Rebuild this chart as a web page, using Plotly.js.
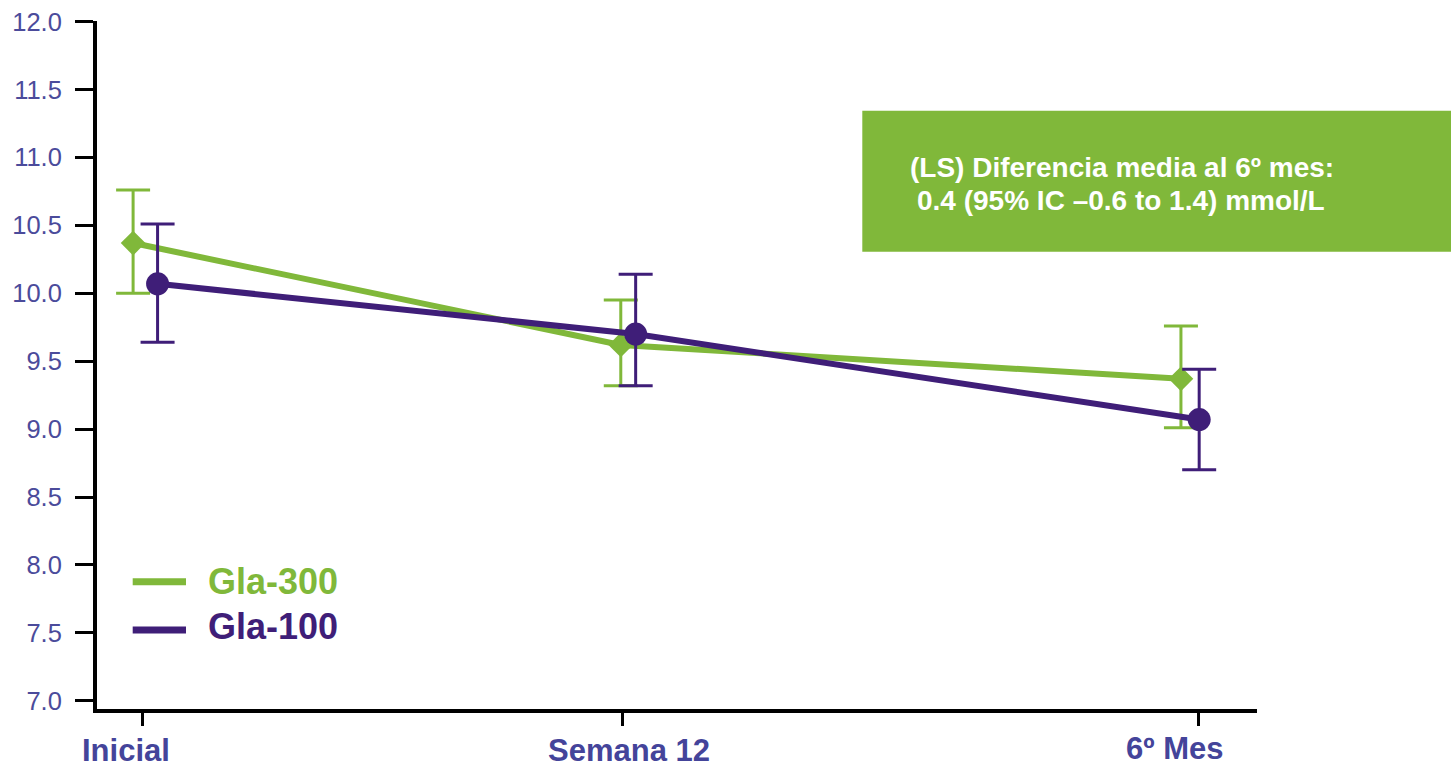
<!DOCTYPE html>
<html>
<head>
<meta charset="utf-8">
<script src="https://cdn.plot.ly/plotly-3.0.1.min.js"></script>
<style>
  html, body { margin: 0; padding: 0; background: #ffffff; }
  #chart { width: 1451px; height: 769px; }
</style>
</head>
<body>
<div id="chart"></div>
<script>
// Visit labels
const categories = ['Inicial', 'Semana 12', '6º Mes'];

// Mean glucose (mmol/L) and 95% CI bounds per visit
const gla300Mean  = [10.37, 9.62, 9.37];
const gla300Upper = [10.76, 9.95, 9.76];
const gla300Lower = [10.00, 9.32, 9.01];

const gla100Mean  = [10.07, 9.70, 9.07];
const gla100Upper = [10.51, 10.14, 9.44];
const gla100Lower = [9.64, 9.32, 8.70];

const seriesNames = ['Gla-300', 'Gla-100'];
const yTickVals = [7.0, 7.5, 8.0, 8.5, 9.0, 9.5, 10.0, 10.5, 11.0, 11.5, 12.0];
const boxLines = ['(LS) Diferencia media al 6º mes:', '0.4 (95% IC –0.6 to 1.4) mmol/L'];

// ---- layout / styling ----
const GREEN = '#80B83A';
const PURPLE = '#3F1E78';
const TICKCOL = '#4B4B9B';
const LABELCOL = '#44449A';

// horizontal placement of visits on the time axis, and small per-series dodge
const visitPos = [0, 1, 2.2];
const dodge300 = [-0.020, -0.004, -0.037];
const dodge100 = [0.031, 0.027, 0.001];

const W = 1451, H = 769;
const M = { l: 97, r: W - 1257, t: 21, b: H - 709 };
const plotW = W - M.l - M.r, plotH = H - M.t - M.b;
const px = x => (x - M.l) / plotW;
const py = y => (709 - y) / plotH;

const fmt = v => v.toFixed(1);

const gla300 = {
  type: 'scatter', mode: 'lines+markers', name: seriesNames[0],
  x: visitPos.map((p, i) => p + dodge300[i]),
  y: gla300Mean,
  line: { color: GREEN, width: 6 },
  marker: { symbol: 'diamond', size: 19, color: GREEN },
  error_y: {
    type: 'data', symmetric: false,
    array: gla300Upper.map((u, i) => u - gla300Mean[i]),
    arrayminus: gla300Mean.map((m, i) => m - gla300Lower[i]),
    color: GREEN, thickness: 3, width: 17
  },
  showlegend: false, hoverinfo: 'skip'
};

const gla100 = {
  type: 'scatter', mode: 'lines+markers', name: seriesNames[1],
  x: visitPos.map((p, i) => p + dodge100[i]),
  y: gla100Mean,
  line: { color: PURPLE, width: 6 },
  marker: { symbol: 'circle', size: 23, color: PURPLE },
  error_y: {
    type: 'data', symmetric: false,
    array: gla100Upper.map((u, i) => u - gla100Mean[i]),
    arrayminus: gla100Mean.map((m, i) => m - gla100Lower[i]),
    color: PURPLE, thickness: 3, width: 17
  },
  showlegend: false, hoverinfo: 'skip'
};

// x-axis category labels sit slightly off their ticks
const labelCenters = [126.4, 628.7, 1174];
const labelMid = [751, 751, 748.5];
const xLabelAnnotations = categories.map((c, i) => ({
  xref: 'paper', yref: 'paper', x: px(labelCenters[i]), y: py(labelMid[i]),
  xanchor: 'center', yanchor: 'middle', showarrow: false, text: c, borderpad: 0,
  font: { family: 'Liberation Sans, Arial, sans-serif', size: 31, color: LABELCOL, weight: 'bold' }
}));

// green summary box
const boxAnnotations = boxLines.map((t, i) => ({
  xref: 'paper', yref: 'paper', x: px([1122, 1120.5][i]), y: py([167, 200][i]),
  xanchor: 'center', yanchor: 'middle', showarrow: false, text: t,
  font: { family: 'Liberation Sans, Arial, sans-serif', size: 28, color: '#ffffff', weight: 'bold' }
}));

// hand-placed legend
const legendAnnotations = seriesNames.map((n, i) => ({
  xref: 'paper', yref: 'paper', x: px(206), y: py([581, 626.7][i]),
  xanchor: 'left', yanchor: 'middle', showarrow: false, text: n,
  font: { family: 'Liberation Sans, Arial, sans-serif', size: 36, color: [GREEN, PURPLE][i], weight: 'bold' }
}));

const shapes = [
  { type: 'rect', xref: 'paper', yref: 'paper',
    x0: px(862.3), x1: px(1451), y0: py(251.7), y1: py(110.7),
    fillcolor: GREEN, line: { width: 0 }, layer: 'above' },
  { type: 'line', xref: 'paper', yref: 'paper', x0: px(132.7), x1: px(186), y0: py(581.7), y1: py(581.7),
    line: { color: GREEN, width: 7 } },
  { type: 'line', xref: 'paper', yref: 'paper', x0: px(132.7), x1: px(186), y0: py(630), y1: py(630),
    line: { color: PURPLE, width: 7 } }
];

const pxPerUnitX = 480, originX = 142.7;
const layout = {
  width: W, height: H,
  margin: M,
  paper_bgcolor: '#ffffff', plot_bgcolor: '#ffffff',
  showlegend: false,
  xaxis: {
    range: [(M.l - originX) / pxPerUnitX, (1257 - originX) / pxPerUnitX],
    tickmode: 'array', tickvals: visitPos, showticklabels: false,
    ticks: 'outside', ticklen: 13, tickwidth: 3, tickcolor: '#000000',
    showline: true, linecolor: '#000000', linewidth: 4,
    showgrid: false, zeroline: false, fixedrange: true
  },
  yaxis: {
    range: [6.939, 12.005],
    tickmode: 'array', tickvals: yTickVals, ticktext: yTickVals.map(fmt),
    ticks: 'outside', ticklen: 18, tickwidth: 3, tickcolor: '#000000',
    ticklabelstandoff: 8,
    tickfont: { family: 'Liberation Sans, Arial, sans-serif', size: 25.5, color: TICKCOL },
    showline: true, linecolor: '#000000', linewidth: 4,
    showgrid: false, zeroline: false, fixedrange: true
  },
  shapes: shapes,
  annotations: [...xLabelAnnotations, ...boxAnnotations, ...legendAnnotations]
};

Plotly.newPlot('chart', [gla300, gla100], layout, { displayModeBar: false, staticPlot: true });
</script>
</body>
</html>
